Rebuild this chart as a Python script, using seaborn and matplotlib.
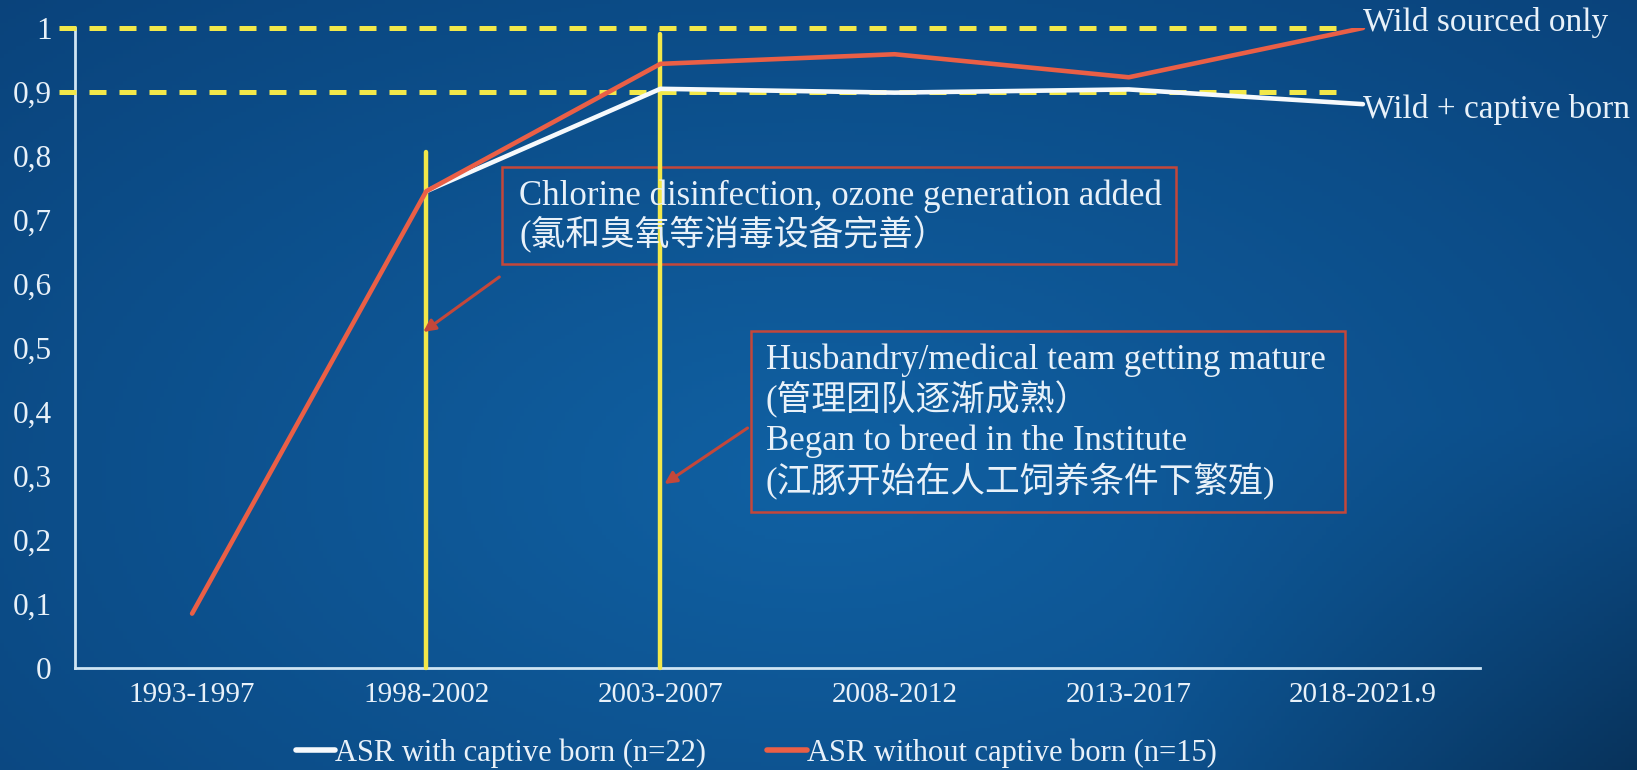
import numpy as np
import pandas as pd
import matplotlib
matplotlib.use("Agg")
import matplotlib.pyplot as plt
import seaborn as sns
from matplotlib.patches import Rectangle

# ---- data -------------------------------------------------------------
periods = ["1993-1997", "1998-2002", "2003-2007", "2008-2012", "2013-2017", "2018-2021.9"]
asr_with_captive = [np.nan, 0.745, 0.905, 0.899, 0.904, 0.881]
asr_without_captive = [0.085, 0.745, 0.944, 0.959, 0.923, 1.0]
label_with = "ASR with captive born (n=22)"
label_without = "ASR without captive born (n=15)"
reference_levels = [1.0, 0.9]
reference_names = ["Wild sourced only", "Wild + captive born"]
y_ticks = [0, 0.1, 0.2, 0.3, 0.4, 0.5, 0.6, 0.7, 0.8, 0.9, 1.0]
y_tick_labels = ["0", "0,1", "0,2", "0,3", "0,4", "0,5", "0,6", "0,7", "0,8", "0,9", "1"]
event_periods = [1, 2]          # index of period where each event happened
event_heights = [0.807, 0.99]
note_1 = ["Chlorine disinfection, ozone generation added", "(氯和臭氧等消毒设备完善）"]
note_2 = ["Husbandry/medical team getting mature", "(管理团队逐渐成熟）",
          "Began to breed in the Institute", "(江豚开始在人工饲养条件下繁殖)"]

# ---- styling ----------------------------------------------------------
sns.set_theme(style="white")
FONT = ["Liberation Serif", "Noto Sans CJK SC", "DejaVu Sans"]
plt.rcParams["font.family"] = FONT
TEXT = "#e8f1f9"
RED = "#ea5f46"
WHITE = "#f6f9fc"
YELLOW = "#f2e84a"
BOX_RED = "#c4473a"
AXIS = "#cfe5f4"

W, H, DPI = 1637, 770, 100
fig = plt.figure(figsize=(W / DPI, H / DPI), dpi=DPI)

# background: deep-blue radial gradient
bg = fig.add_axes([0, 0, 1, 1], zorder=-10)
yy, xx = np.mgrid[0:1:200j, 0:1:400j]
r = np.sqrt(((xx - 0.5) / 0.75) ** 2 + ((yy - 0.62) / 0.9) ** 2)
t = np.clip(r, 0, 1)[..., None]
centre = np.array([16, 97, 163]) / 255
edge = np.array([10, 66, 122]) / 255
img = centre * (1 - t) + edge * t
corner = np.clip((xx - 0.7) / 0.3, 0, 1) * np.clip((yy - 0.55) / 0.45, 0, 1)
img = img * (1 - 0.3 * corner[..., None])
bg.imshow(img, aspect="auto", extent=[0, 1, 0, 1], origin="upper")
bg.set_axis_off()

ax = fig.add_axes([75 / W, 102 / H, 1405 / W, 640 / H])
ax.set_facecolor("none")

x_idx = np.arange(len(periods))
df = pd.DataFrame({
    "period": np.concatenate([x_idx, x_idx]),
    "asr": asr_with_captive + asr_without_captive,
    "series": [label_with] * len(periods) + [label_without] * len(periods),
}).dropna()

sns.lineplot(data=df, x="period", y="asr", hue="series",
             palette={label_with: WHITE, label_without: RED},
             hue_order=[label_with, label_without],
             linewidth=3.3, ax=ax, legend=True, zorder=5)
for ln in ax.get_lines():
    if matplotlib.colors.same_color(ln.get_color(), RED):
        ln.set_zorder(6)

ax.set_xlim(-0.5, len(periods) - 0.5)
ax.set_ylim(0, 1.0)
ax.set_xticks(x_idx)
ax.set_xticklabels(periods)
ax.set_yticks(y_ticks)
ax.set_yticklabels(y_tick_labels)
ax.set_xlabel("")
ax.set_ylabel("")
ax.tick_params(axis="both", length=0, labelsize=21, colors=TEXT)
ax.tick_params(axis="y", pad=17, labelsize=22.5)
ax.tick_params(axis="x", pad=10)
for side in ["top", "right"]:
    ax.spines[side].set_visible(False)
for side in ["left", "bottom"]:
    ax.spines[side].set_color(AXIS)
    ax.spines[side].set_linewidth(2)
    ax.spines[side].set_zorder(3)

# reference levels (dashed) with their names
for lvl in reference_levels:
    ax.plot([-0.57, 4.94], [lvl, lvl], color=YELLOW, linewidth=3.6,
            linestyle=(0, (3.4, 2.6)), clip_on=False, zorder=4)
ax.text(5.0, 1.008, reference_names[0], color=TEXT, fontsize=24,
        ha="left", va="center", clip_on=False, zorder=7)
ax.text(5.0, 0.873, reference_names[1], color=TEXT, fontsize=24,
        ha="left", va="center", clip_on=False, zorder=7)

# event markers
for xp, h in zip(event_periods, event_heights):
    ax.plot([xp, xp], [0, h], color=YELLOW, linewidth=3.2, zorder=4, clip_on=False)

# note boxes
ax.add_patch(Rectangle((1.325, 0.631), 4.201 - 1.325, 0.783 - 0.631,
                       fill=False, edgecolor=BOX_RED, linewidth=1.8, zorder=3))
for yv, s in zip([0.7375, 0.677], note_1):
    ax.text(1.397, yv, s, color=TEXT, fontsize=25, ha="left", va="center", zorder=7)
ax.annotate("", xy=(0.987, 0.525), xytext=(1.312, 0.611),
            arrowprops=dict(arrowstyle="-|>", color=BOX_RED, lw=2.2,
                            mutation_scale=18, shrinkA=0, shrinkB=0), zorder=7)

ax.add_patch(Rectangle((2.385, 0.244), 4.923 - 2.385, 0.527 - 0.244,
                       fill=False, edgecolor=BOX_RED, linewidth=1.8, zorder=3))
for yv, s in zip([0.481, 0.419, 0.355, 0.291], note_2):
    ax.text(2.449, yv, s, color=TEXT, fontsize=25, ha="left", va="center", zorder=7)
ax.annotate("", xy=(2.017, 0.2875), xytext=(2.372, 0.375),
            arrowprops=dict(arrowstyle="-|>", color=BOX_RED, lw=2.2,
                            mutation_scale=18, shrinkA=0, shrinkB=0), zorder=7)

# legend along the bottom
handles, labels = ax.get_legend_handles_labels()
ax.get_legend().remove()
leg = fig.legend(handles, labels, loc="center", bbox_to_anchor=(0.462, 0.022),
                 ncol=2, frameon=False, fontsize=22, handlelength=1.3,
                 handletextpad=0.0, columnspacing=2.0, borderaxespad=0)
for txt in leg.get_texts():
    txt.set_color(TEXT)
for lh in leg.get_lines():
    lh.set_linewidth(4)

fig.savefig("out.png", dpi=DPI)
